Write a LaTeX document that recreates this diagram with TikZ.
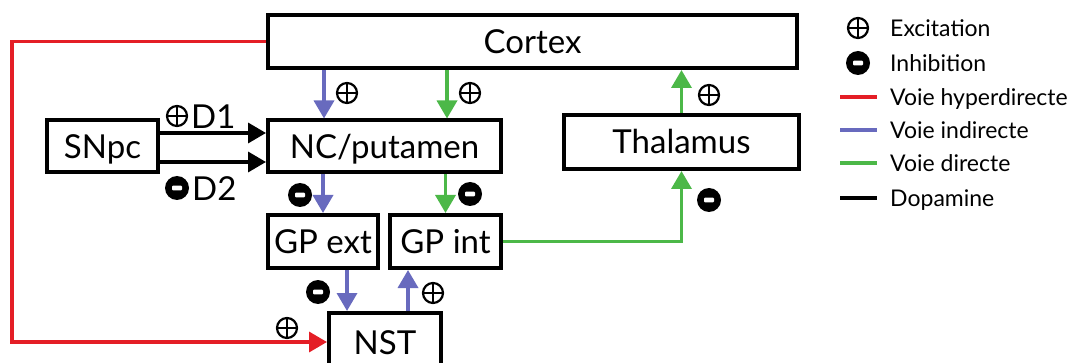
\documentclass[tikz,border=0pt]{standalone}
\usepackage{fontspec}
\setmainfont{Lato}
\usetikzlibrary{arrows.meta}
\definecolor{hypred}{RGB}{228,30,38}
\definecolor{indblue}{RGB}{104,106,190}
\definecolor{dirgreen}{RGB}{76,184,72}

\begin{document}
\begin{tikzpicture}
  [x=1pt,y=-1pt,
   box/.style={draw,line width=4pt,inner sep=0pt,text height=24pt,text depth=0pt,font=\fontsize{33}{36}\selectfont},
   lab/.style={anchor=west,inner sep=0pt,text height=24pt,text depth=0pt,font=\fontsize{33}{36}\selectfont},
   legtext/.style={anchor=west,inner sep=0pt,text height=16.5pt,text depth=0pt,font=\fontsize{23}{26}\selectfont},
   exc/.style={circle,draw,line width=2.2pt,minimum size=20pt,inner sep=0pt,
     path picture={\draw[line width=2.2pt] (path picture bounding box.north) -- (path picture bounding box.south)
       (path picture bounding box.west) -- (path picture bounding box.east);}},
   inh/.style={circle,fill=black,minimum size=24pt,inner sep=0pt,
     path picture={\fill[white,rounded corners=1pt] ([xshift=-5pt,yshift=-2.3pt]path picture bounding box.center)
       rectangle ([xshift=5pt,yshift=2.3pt]path picture bounding box.center);}},
   conn/.style={line width=3.5pt,-{Triangle[length=18pt,width=20pt]}},
   hyper/.style={conn,draw=hypred},
   indir/.style={conn,draw=indblue},
   dir/.style={conn,draw=dirgreen},
   dopa/.style={conn,draw=black}]
  \useasboundingbox (0,0) rectangle (1083,363);

  \node (cortex)[box,minimum width=529,minimum height=53] at (532.5,41.5) {Cortex};
  \node (snpc)[box,minimum width=111,minimum height=52] at (102.5,146.5) {SNpc};
  \node (nc)[box,minimum width=233,minimum height=52] at (384.5,146.5) {NC/putamen};
  \node (thal)[box,minimum width=235,minimum height=54] at (681.5,142) {Thalamus};
  \node (gpext)[box,minimum width=110,minimum height=53] at (323,241.5) {GP ext};
  \node (gpint)[box,minimum width=111,minimum height=53] at (445.5,241.5) {GP int};
  \node (nst)[box,minimum width=112,minimum height=58] at (385,342) {NST};

  \draw[hyper] (cortex.west) -| (12,200) |- (nst.west);
  \foreach \x/\s in {324/indir,447/dir}
    \draw[\s] (cortex.south -| \x,0) -- (nc.north -| \x,0);
  \foreach \y in {133,162}
    \draw[dopa] (snpc.east |- 0,\y) -- (nc.west |- 0,\y);
  \draw[indir] (nc.south -| gpext.north) -- (gpext.north);
  \draw[dir] (nc.south -| gpint.north) -- (gpint.north);
  \draw[dir] (gpint.east) -| (thal.south);
  \draw[dir] (thal.north) -- (cortex.south -| thal.north);
  \draw[indir] (gpext.south -| 347,0) -- (nst.north -| 347,0);
  \draw[indir] (nst.north -| 408,0) -- (gpint.south -| 408,0);

  \node (e1)[exc] at (347,93) {};
  \node (e2)[exc] at (470,93) {};
  \node (e3)[exc] at (709,95) {};
  \node (e4)[exc] at (433,293) {};
  \node (e5)[exc] at (287,328) {};
  \node (i1)[inh] at (300,195) {};
  \node (i2)[inh] at (470,194) {};
  \node (i3)[inh] at (709,200) {};
  \node (i4)[inh] at (318,292) {};

  \node (pd1)[exc] at (177,116) {};
  \node (d1)[lab] at (191,117) {D1};
  \node (md2)[inh] at (177,188) {};
  \node (d2)[lab] at (192,189) {D2};

  \node (kexc)[exc] at (858,28) {};
  \node (kinh)[inh] at (858,63) {};
  \node (lexc)[legtext] at (890,28) {Excitation};
  \node (linh)[legtext] at (890,63) {Inhibition};
  \node (lhyp)[legtext] at (890,97) {Voie hyperdirecte};
  \node (lind)[legtext] at (890,130) {Voie indirecte};
  \node (ldir)[legtext] at (890,163) {Voie directe};
  \node (ldopa)[legtext] at (890,198) {Dopamine};
  \foreach \n/\c in {lhyp/hypred,lind/indblue,ldir/dirgreen,ldopa/black}
    \draw[line width=3.5pt,\c] ([xshift=-50pt]\n.west) -- ([xshift=-13pt]\n.west);
\end{tikzpicture}
\end{document}
